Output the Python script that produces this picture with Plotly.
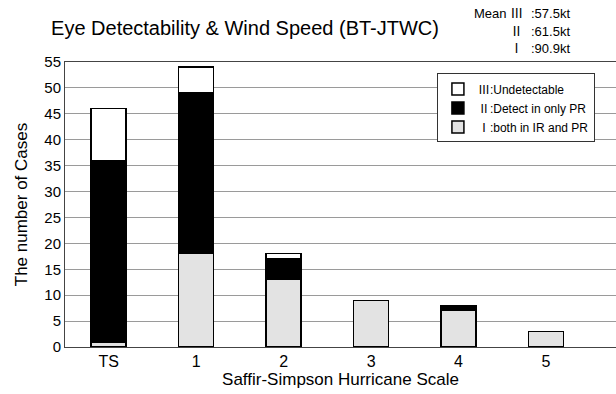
import plotly.graph_objects as go

categories = ["TS", "1", "2", "3", "4", "5"]
both_ir_pr = [1, 18, 13, 9, 7, 3]
only_pr = [35, 31, 4, 0, 1, 0]
undetectable = [10, 5, 1, 0, 0, 0]

mean_labels = ["Mean Ⅲ", "Ⅱ", "Ⅰ"]
mean_values = [":57.5kt", ":61.5kt", ":90.9kt"]

font_main = "Liberation Sans, Arial, Noto Sans CJK JP, sans-serif"

fig = go.Figure()
fig.add_trace(go.Bar(x=categories, y=both_ir_pr, name="Ⅰ:both in IR and PR",
                     marker=dict(color="#e3e3e3", line=dict(color="black", width=1.5)), width=0.4))
fig.add_trace(go.Bar(x=categories, y=only_pr, name="Ⅱ:Detect in only PR",
                     marker=dict(color="black", line=dict(color="black", width=1.5)), width=0.4))
fig.add_trace(go.Bar(x=categories, y=undetectable, name="Ⅲ:Undetectable",
                     marker=dict(color="white", line=dict(color="black", width=1.5)), width=0.4))

fig.update_layout(
    barmode="stack",
    width=616, height=394,
    margin=dict(l=65, r=0, t=62, b=47),
    paper_bgcolor="white", plot_bgcolor="white",
    font=dict(family=font_main, color="black"),
    title=dict(text="Eye Detectability & Wind Speed (BT-JTWC)", x=245 / 616, xanchor="center",
               y=1 - 28 / 394, yanchor="middle", font=dict(size=20)),
    legend=dict(x=0.675, y=0.96, xanchor="left", yanchor="top", traceorder="reversed",
                bgcolor="white", bordercolor="#333", borderwidth=1,
                font=dict(size=12), itemwidth=30, tracegroupgap=0),
    showlegend=True,
)
fig.update_xaxes(range=[-0.5, 5.8], showline=True, linecolor="#444", linewidth=1, mirror=True,
                 ticks="", tickfont=dict(size=16),
                 title=dict(text="Saffir-Simpson Hurricane Scale", font=dict(size=17), standoff=2))
fig.update_yaxes(range=[0, 55], dtick=5, showline=True, linecolor="#444", linewidth=1,
                 showgrid=True, gridcolor="#9a9a9a", gridwidth=1, zeroline=False,
                 ticks="", tickfont=dict(size=15),
                 title=dict(text="The number of Cases", font=dict(size=17), standoff=12))

ypix = [14, 32, 48]
for lab, val, yp in zip(mean_labels, mean_values, ypix):
    fig.add_annotation(text=lab, x=(525 - 65) / 551, y=(347 - yp) / 285, xref="paper", yref="paper",
                       showarrow=False, xanchor="right", yanchor="middle", font=dict(size=13))
    fig.add_annotation(text=val, x=(529 - 65) / 551, y=(347 - yp) / 285, xref="paper", yref="paper",
                       showarrow=False, xanchor="left", yanchor="middle", font=dict(size=13))

fig.write_html("out.html")
